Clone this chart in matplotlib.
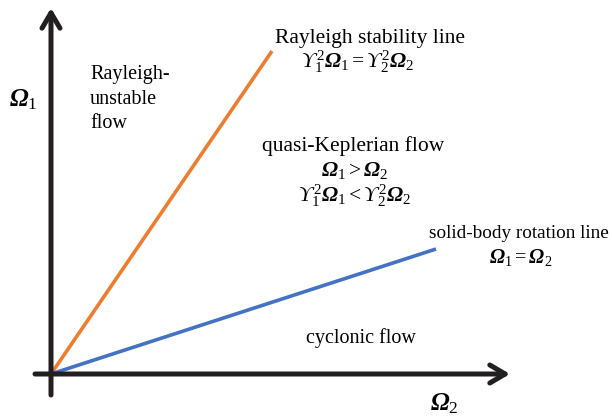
import matplotlib.pyplot as plt

plt.rcParams['mathtext.fontset'] = 'custom'
plt.rcParams['mathtext.rm'] = 'Liberation Serif'
plt.rcParams['mathtext.it'] = 'Liberation Serif:italic'
plt.rcParams['mathtext.bf'] = 'Liberation Serif:bold:italic'
plt.rcParams['mathtext.fallback'] = 'stix'
plt.rcParams['font.family'] = 'Liberation Serif'

# line end points (Omega_2, Omega_1), origin at 0
rayleigh_x = [0, 2.21]
rayleigh_y = [0, 3.23]
solid_x = [0, 3.85]
solid_y = [0, 1.25]

fig = plt.figure(figsize=(6.12, 4.16), dpi=100)
ax = fig.add_axes([0, 0, 1, 1])
ax.set_xlim(-0.51, 5.61)
ax.set_ylim(-0.42, 3.74)
ax.axis('off')

axcol = '#231F20'
ap = dict(arrowstyle='->,head_length=1.1,head_width=0.65', color=axcol, lw=3.6,
          shrinkA=0, shrinkB=0)
ax.annotate('', xy=(4.59, 0), xytext=(-0.16, 0), arrowprops=ap)
ax.annotate('', xy=(0, 3.66), xytext=(0, -0.21), arrowprops=ap)

ax.plot(rayleigh_x, rayleigh_y, color='#ED7D31', lw=2.6, solid_capstyle='butt')
ax.plot(solid_x, solid_y, color='#4472C4', lw=2.6, solid_capstyle='butt')

fs = 15.5
U = r'\mathit{ϒ}'
ax.text(-0.28, 2.74, r'$\mathbf{\Omega}_1$', fontsize=18, ha='center', va='center')
ax.text(3.93, -0.30, r'$\mathbf{\Omega}_2$', fontsize=18, ha='center', va='center')

ax.text(0.39, 2.75, 'Rayleigh-\nunstable\nflow', fontsize=14.5, ha='left', va='center',
        linespacing=1.42)

ax.text(3.19, 3.36, 'Rayleigh stability line', fontsize=fs, ha='center', va='center')
ax.text(3.07, 3.12, r'$%s_1^2\mathbf{\Omega}_1 = %s_2^2\mathbf{\Omega}_2$' % (U, U),
        fontsize=fs, ha='center', va='center')

ax.text(3.02, 2.28, 'quasi-Keplerian flow', fontsize=fs, ha='center', va='center')
ax.text(3.04, 2.04, r'$\mathbf{\Omega}_1 > \mathbf{\Omega}_2$', fontsize=fs,
        ha='center', va='center')
ax.text(3.04, 1.78, r'$%s_1^2\mathbf{\Omega}_1 < %s_2^2\mathbf{\Omega}_2$' % (U, U),
        fontsize=fs, ha='center', va='center')

ax.text(4.68, 1.41, 'solid-body rotation line', fontsize=13.8, ha='center', va='center')
ax.text(4.70, 1.17, r'$\mathbf{\Omega}_1 = \mathbf{\Omega}_2$', fontsize=14.5,
        ha='center', va='center')

ax.text(3.10, 0.36, 'cyclonic flow', fontsize=14.5, ha='center', va='center')

fig.savefig('out.png', dpi=100)
